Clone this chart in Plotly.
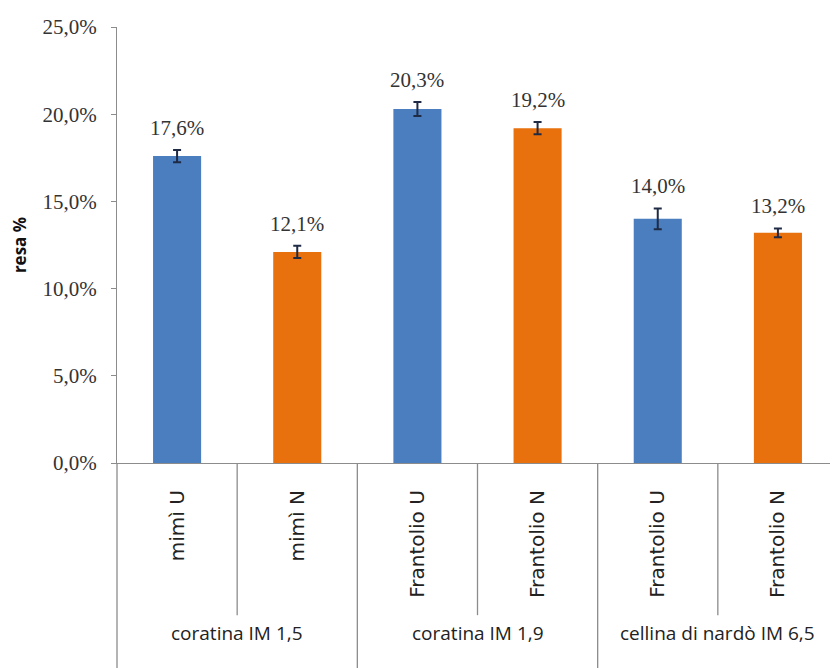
import plotly.graph_objects as go

categories = ["mimì U", "mimì N", "Frantolio U", "Frantolio N", "Frantolio U ", "Frantolio N "]
tick_names = ["mimì U", "mimì N", "Frantolio U", "Frantolio N", "Frantolio U", "Frantolio N"]
groups = ["coratina IM 1,5", "coratina IM 1,9", "cellina di nardò IM 6,5"]
values = [17.6, 12.1, 20.3, 19.2, 14.0, 13.2]
errors = [0.35, 0.35, 0.4, 0.35, 0.6, 0.25]
value_labels = ["17,6%", "12,1%", "20,3%", "19,2%", "14,0%", "13,2%"]
y_ticks = [0, 5, 10, 15, 20, 25]
y_tick_labels = ["0,0%", "5,0%", "10,0%", "15,0%", "20,0%", "25,0%"]

BLUE = "#4a7ebf"
ORANGE = "#e8700d"
colors = [BLUE, ORANGE] * 3
GRID = "#8c8c8c"

fig = go.Figure()
fig.add_trace(go.Bar(
    x=categories, y=values, width=0.4,
    marker=dict(color=colors, line=dict(width=0)),
    error_y=dict(type="data", array=errors, visible=True,
                 color="#1f2a44", thickness=2, width=4),
    showlegend=False, hoverinfo="skip",
))

for c, v, e, t in zip(categories, values, errors, value_labels):
    fig.add_annotation(x=c, y=v + e, text=t, showarrow=False,
                       xanchor="center", yanchor="bottom", yshift=8,
                       font=dict(family="Liberation Serif", size=21, color="#333333"))

n = len(categories)
# dividers between individual categories (short) and groups (long)
for i in range(n + 1):
    is_group = (i % 2 == 0)
    fig.add_shape(type="line", xref="x domain", yref="paper",
                  x0=i / n, x1=i / n, y0=0,
                  y1=-0.48 if is_group else -0.349,
                  line=dict(color=GRID, width=1.3))

for g, name in enumerate(groups):
    fig.add_annotation(xref="x domain", yref="paper", x=(2 * g + 1) / n, y=-0.39,
                       text=name, showarrow=False, xanchor="center", yanchor="middle",
                       font=dict(family="Open Sans", size=19, color="#222222"))

fig.update_layout(
    width=830, height=660,
    margin=dict(l=109, r=0, t=19, b=205, autoexpand=False),
    plot_bgcolor="white", paper_bgcolor="white",
    bargap=0.6,
    xaxis=dict(
        tickmode="array", tickvals=categories, ticktext=tick_names,
        tickangle=-90, ticks="", showline=True, linecolor=GRID, linewidth=1.3,
        tickfont=dict(family="DejaVu Sans", size=20, color="#222222"),
        ticklabelstandoff=18, showgrid=False, range=[-0.5, n - 0.5],
        automargin=False,
    ),
    yaxis=dict(
        range=[0, 25], tickmode="array", tickvals=y_ticks, ticktext=y_tick_labels,
        ticks="outside", ticklen=5, tickcolor=GRID, showline=True, linecolor=GRID,
        linewidth=1.3, showgrid=False, zeroline=False,
        tickfont=dict(family="Liberation Serif", size=21, color="#333333"),
        ticklabelstandoff=10, automargin=False,
        title=dict(text="<b>resa %</b>", standoff=25,
                   font=dict(family="Open Sans", size=17, color="#111111")),
    ),
)

fig.write_html("out.html")
